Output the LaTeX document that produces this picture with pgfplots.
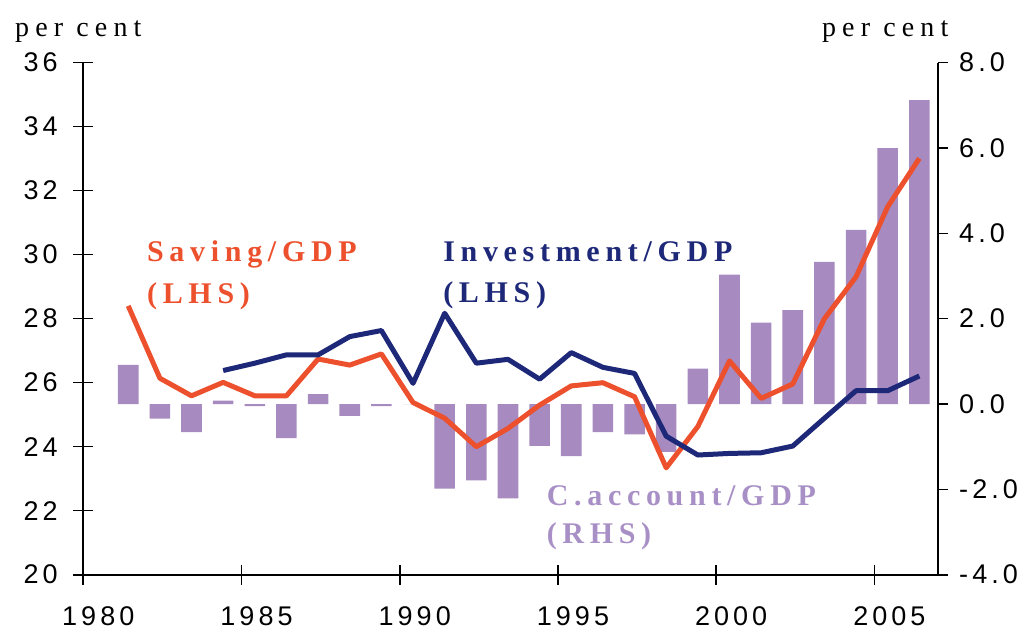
\documentclass[border=0pt]{standalone}
\usepackage{pgfplots}
\pgfplotsset{compat=1.18}
\usepackage{fontspec}
\setmainfont{Liberation Serif}
\newfontfamily\tickfont{Liberation Sans}[LetterSpace=15]
\newfontfamily\lblfont{Liberation Serif}[LetterSpace=22]
\newfontfamily\boldlbl{Liberation Serif}[LetterSpace=19,BoldFont={Liberation Serif Bold}]
\definecolor{savred}{HTML}{EC502D}
\definecolor{invnavy}{HTML}{1E2878}
\definecolor{capurple}{HTML}{A68AC0}
\definecolor{catext}{HTML}{A890C6}

\pgfplotstableread{
x ca
1981.42 0.92
1982.42 -0.34
1983.42 -0.66
1984.42 0.08
1985.42 -0.05
1986.42 -0.80
1987.42 0.23
1988.42 -0.28
1989.42 -0.05
1990.42 0.00
1991.42 -1.98
1992.42 -1.79
1993.42 -2.21
1994.42 -0.98
1995.42 -1.22
1996.42 -0.66
1997.42 -0.71
1998.42 -1.12
1999.42 0.83
2000.42 3.03
2001.42 1.91
2002.42 2.20
2003.42 3.33
2004.42 4.08
2005.42 6.00
2006.42 7.12
}\catable

\pgfplotstableread{
x sav
1981.42 28.40
1982.42 26.14
1983.42 25.59
1984.42 26.01
1985.42 25.59
1986.42 25.59
1987.42 26.74
1988.42 26.55
1989.42 26.90
1990.42 25.38
1991.42 24.89
1992.42 24.00
1993.42 24.57
1994.42 25.30
1995.42 25.90
1996.42 26.00
1997.42 25.56
1998.42 23.34
1999.42 24.63
2000.42 26.68
2001.42 25.51
2002.42 25.96
2003.42 28.00
2004.42 29.31
2005.42 31.50
2006.42 33.01
}\savtable

\pgfplotstableread{
x inv
1984.42 26.38
1985.42 26.61
1986.42 26.87
1987.42 26.87
1988.42 27.44
1989.42 27.63
1990.42 25.98
1991.42 28.17
1992.42 26.61
1993.42 26.73
1994.42 26.11
1995.42 26.94
1996.42 26.48
1997.42 26.29
1998.42 24.33
1999.42 23.74
2000.42 23.79
2001.42 23.81
2002.42 24.02
2003.42 24.89
2004.42 25.75
2005.42 25.75
2006.42 26.21
}\invtable

\begin{document}
\begin{tikzpicture}
% right axis with bars
\begin{axis}[
  scale only axis, width=854.4pt, height=512pt,
  xmin=1980, xmax=2007,
  ymin=-4, ymax=8,
  axis x line=none,
  axis y line*=right,
  axis line style={-, line width=1.6pt},
  ytick={-4,-2,0,2,4,6,8},
  tick align=outside,
  major tick length=10pt,
  every tick/.style={black, line width=1.6pt},
  /pgf/number format/assume math mode=true,
  /pgf/number format/.cd, fixed, fixed zerofill, precision=1,
  /pgfplots/.cd,
  yticklabel style={font=\tickfont\fontsize{27}{30}\selectfont, anchor=west, xshift=8pt},
]
\addplot[ybar, bar width=0.65, fill=capurple, draw=none] table[x=x, y=ca] {\catable};
\end{axis}
% left axis with lines
\begin{axis}[
  scale only axis, width=854.4pt, height=512pt,
  xmin=1980, xmax=2007,
  ymin=20, ymax=36,
  axis x line*=bottom,
  axis y line*=left,
  axis line style={-, line width=1.6pt},
  clip=false,
  xtick={1980,1985,1990,1995,2000,2005},
  ytick={20,22,...,36},
  tick align=center,
  major tick length=20pt,
  every tick/.style={black, line width=1.6pt},
  /pgf/number format/assume math mode=true,
  /pgf/number format/1000 sep={},
  xticklabel style={font=\tickfont\fontsize{27}{30}\selectfont, anchor=north, xshift=15pt, yshift=-18pt},
  yticklabel style={font=\tickfont\fontsize{27}{30}\selectfont, anchor=east, xshift=-12pt},
]
\path (rel axis cs:0,0) ++(-83.3pt,-59.3pt) rectangle ++(1030pt,634pt);
\addplot[savred, line width=5pt, line join=round] table[x=x, y=sav] {\savtable};
\addplot[invnavy, line width=5pt, line join=round] table[x=x, y=inv] {\invtable};

\node[anchor=base west, inner sep=0pt, font=\lblfont\fontsize{28}{30}\selectfont] at (axis cs:1977.84,36.81) {per cent};
\node[anchor=base west, inner sep=0pt, font=\lblfont\fontsize{28}{30}\selectfont] at (axis cs:2003.34,36.81) {per cent};

\node[anchor=base west, inner sep=0pt, text=savred, font=\boldlbl\bfseries\fontsize{30}{32}\selectfont] at (axis cs:1982.01,29.78) {Saving/GDP};
\node[anchor=base west, inner sep=0pt, text=savred, font=\boldlbl\bfseries\fontsize{30}{32}\selectfont] at (axis cs:1982.01,28.46) {(LHS)};

\node[anchor=base west, inner sep=0pt, text=invnavy, font=\boldlbl\bfseries\fontsize{30}{32}\selectfont] at (axis cs:1991.37,29.78) {Investment/GDP};
\node[anchor=base west, inner sep=0pt, text=invnavy, font=\boldlbl\bfseries\fontsize{30}{32}\selectfont] at (axis cs:1991.37,28.50) {(LHS)};

\node[anchor=base west, inner sep=0pt, text=catext, font=\boldlbl\bfseries\fontsize{30}{32}\selectfont] at (axis cs:1994.64,22.15) {C.account/GDP};
\node[anchor=base west, inner sep=0pt, text=catext, font=\boldlbl\bfseries\fontsize{30}{32}\selectfont] at (axis cs:1994.64,20.98) {(RHS)};
\end{axis}
\end{tikzpicture}
\end{document}
